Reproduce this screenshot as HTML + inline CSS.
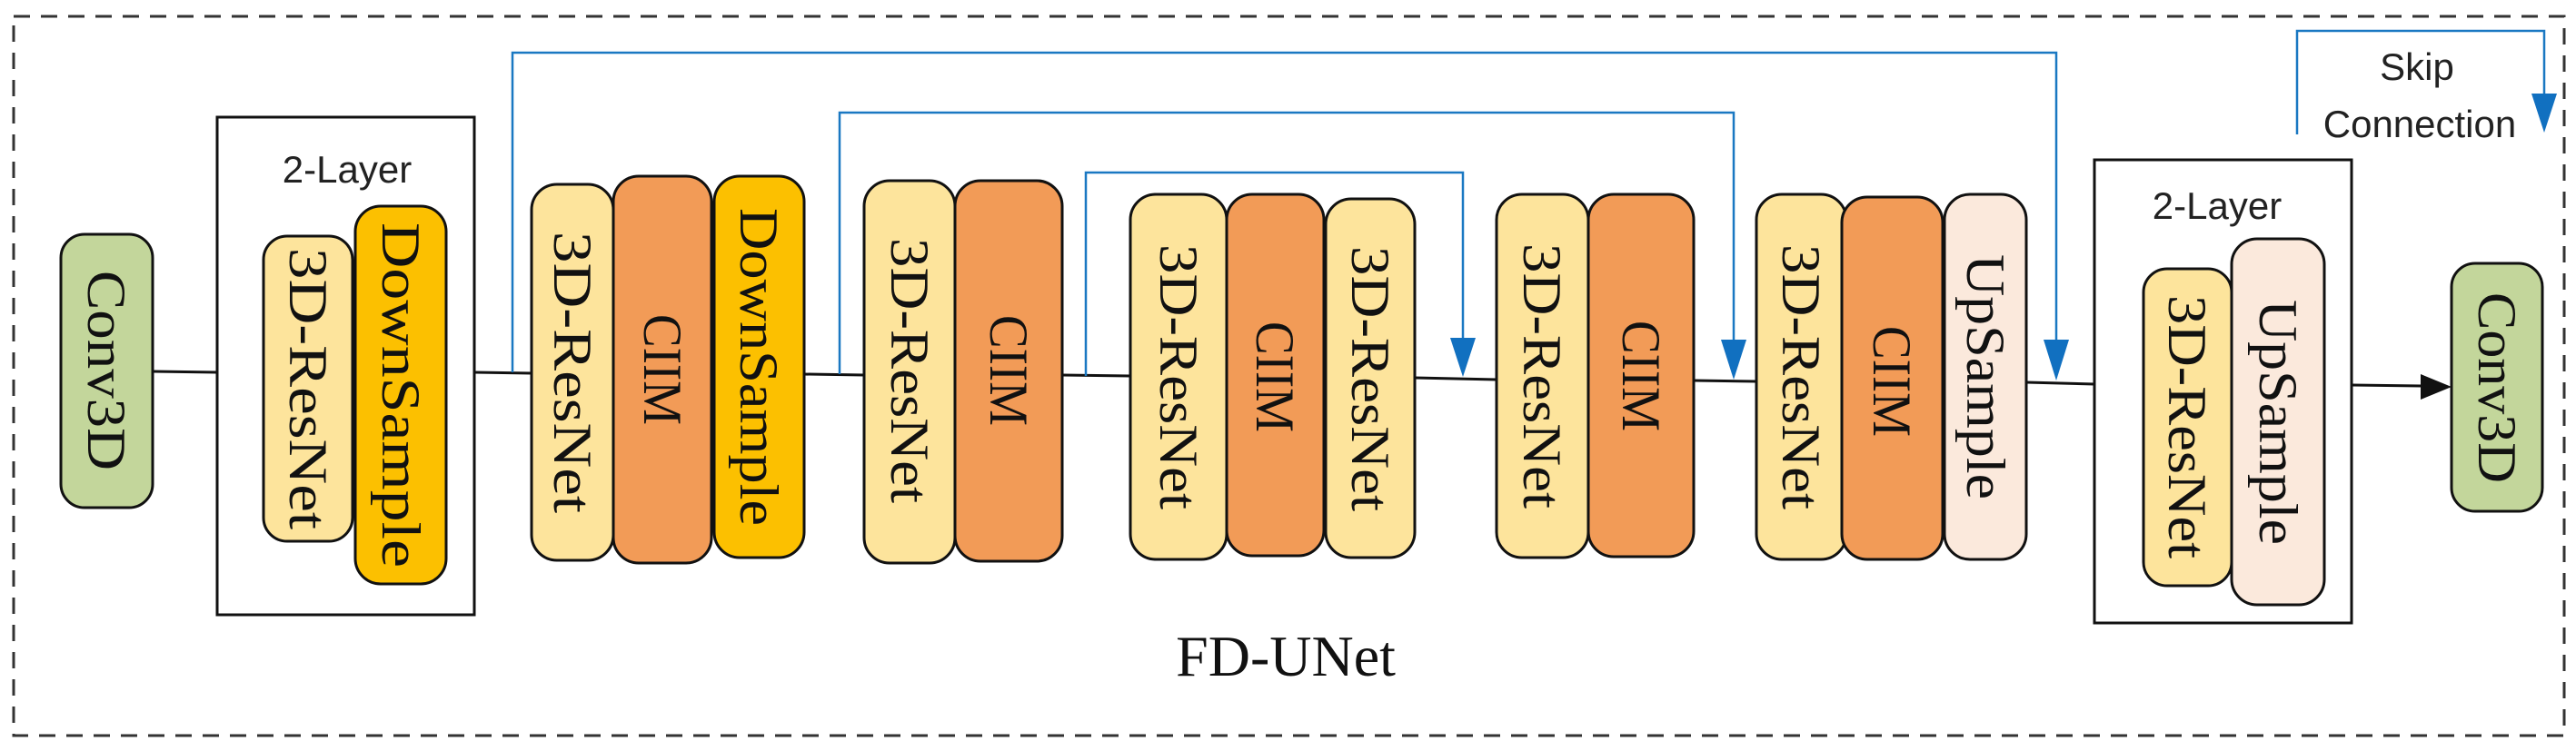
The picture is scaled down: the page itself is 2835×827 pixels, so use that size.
<!DOCTYPE html>
<html><head><meta charset="utf-8"><style>html,body{margin:0;padding:0;background:#fff}svg{display:block}</style></head>
<body>
<svg width="2835" height="827" viewBox="0 0 2835 827" xmlns="http://www.w3.org/2000/svg">
<defs>
<marker id="ab" markerWidth="10" markerHeight="10" refX="5" refY="9" orient="auto" markerUnits="userSpaceOnUse" viewBox="0 0 10 10"></marker>
</defs>
<rect x="15" y="18" width="2807" height="792" fill="none" stroke="#333" stroke-width="3" stroke-dasharray="18,12"/>
<!-- main line -->
<g stroke="#111" stroke-width="3" fill="none">
<line x1="168" y1="409" x2="239" y2="410"/>
<line x1="522" y1="410" x2="585" y2="411"/>
<line x1="885" y1="412" x2="951" y2="413"/>
<line x1="1169" y1="413" x2="1244" y2="414"/>
<line x1="1557" y1="416" x2="1647" y2="418"/>
<line x1="1864" y1="419" x2="1933" y2="420"/>
<line x1="2230" y1="421" x2="2305" y2="423"/>
<line x1="2588" y1="424" x2="2665" y2="425"/>
</g>
<polygon points="2698,426 2664,412 2664,440" fill="#111"/>
<!-- skip connections -->
<g stroke="#1a78c2" stroke-width="2.5" fill="none">
<polyline points="564,410 564,58 2263,58 2263,378"/>
<polyline points="924,412 924,124 1908,124 1908,378"/>
<polyline points="1195,414 1195,190 1610,190 1610,376"/>
<polyline points="2528,148 2528,34 2800,34 2800,108"/>
</g>
<g fill="#1170c0">
<polygon points="1596,372 1624,372 1610,415"/>
<polygon points="1894,374 1922,374 1908,418"/>
<polygon points="2249,374 2277,374 2263,419"/>
<polygon points="2786,103 2814,103 2800,146"/>
</g>
<!-- boxes -->
<rect x="239" y="129" width="283" height="548" fill="none" stroke="#111" stroke-width="3"/>
<rect x="2305" y="176" width="283" height="510" fill="none" stroke="#111" stroke-width="3"/>
<g font-family="Liberation Sans, sans-serif" font-size="42" fill="#222" text-anchor="middle">
<text x="382" y="201">2-Layer</text>
<text x="2440" y="241">2-Layer</text>
<text x="2660" y="88">Skip</text>
<text x="2663" y="151">Connection</text>
</g>
<g stroke="#111" stroke-width="3">
<rect x="67" y="258" width="101" height="301" rx="26" fill="#c3d69b"/>
<rect x="290" y="260" width="98" height="336" rx="26" fill="#fde49c"/>
<rect x="391" y="227" width="100" height="416" rx="28" fill="#fcc000"/>
<rect x="585" y="203" width="90" height="414" rx="28" fill="#fde49c"/>
<rect x="675" y="194" width="108" height="426" rx="28" fill="#f29b57"/>
<rect x="786" y="194" width="99" height="420" rx="28" fill="#fcc000"/>
<rect x="951" y="199" width="100" height="421" rx="28" fill="#fde49c"/>
<rect x="1051" y="199" width="118" height="419" rx="28" fill="#f29b57"/>
<rect x="1244" y="214" width="106" height="402" rx="28" fill="#fde49c"/>
<rect x="1350" y="214" width="107" height="398" rx="28" fill="#f29b57"/>
<rect x="1459" y="219" width="98" height="395" rx="28" fill="#fde49c"/>
<rect x="1647" y="214" width="101" height="400" rx="28" fill="#fde49c"/>
<rect x="1748" y="214" width="116" height="399" rx="28" fill="#f29b57"/>
<rect x="1933" y="214" width="99" height="402" rx="28" fill="#fde49c"/>
<rect x="2027" y="217" width="111" height="399" rx="28" fill="#f29b57"/>
<rect x="2140" y="214" width="90" height="402" rx="28" fill="#fbe9dc"/>
<rect x="2359" y="296" width="97" height="349" rx="26" fill="#fde49c"/>
<rect x="2456" y="263" width="102" height="403" rx="28" fill="#fbe9dc"/>
<rect x="2698" y="290" width="100" height="273" rx="26" fill="#c3d69b"/>
</g>
<g font-family="Liberation Serif, serif" font-size="60" fill="#111" text-anchor="middle" dominant-baseline="central" lengthAdjust="spacingAndGlyphs">
<text transform="translate(117,408) rotate(90)" textLength="220" lengthAdjust="spacingAndGlyphs">Conv3D</text>
<text transform="translate(339,428) rotate(90)" textLength="310" lengthAdjust="spacingAndGlyphs">3D-ResNet</text>
<text transform="translate(441,435) rotate(90)" textLength="380" lengthAdjust="spacingAndGlyphs">DownSample</text>
<text transform="translate(630,410) rotate(90)" textLength="310" lengthAdjust="spacingAndGlyphs">3D-ResNet</text>
<text transform="translate(729,407) rotate(90)" textLength="122" lengthAdjust="spacingAndGlyphs">CIIM</text>
<text transform="translate(835,404) rotate(90)" textLength="350" lengthAdjust="spacingAndGlyphs">DownSample</text>
<text transform="translate(1001,408) rotate(90)" textLength="292" lengthAdjust="spacingAndGlyphs">3D-ResNet</text>
<text transform="translate(1110,408) rotate(90)" textLength="122" lengthAdjust="spacingAndGlyphs">CIIM</text>
<text transform="translate(1297,415) rotate(90)" textLength="292" lengthAdjust="spacingAndGlyphs">3D-ResNet</text>
<text transform="translate(1403,415) rotate(90)" textLength="122" lengthAdjust="spacingAndGlyphs">CIIM</text>
<text transform="translate(1508,417) rotate(90)" textLength="292" lengthAdjust="spacingAndGlyphs">3D-ResNet</text>
<text transform="translate(1697,414) rotate(90)" textLength="292" lengthAdjust="spacingAndGlyphs">3D-ResNet</text>
<text transform="translate(1806,414) rotate(90)" textLength="122" lengthAdjust="spacingAndGlyphs">CIIM</text>
<text transform="translate(1982,415) rotate(90)" textLength="292" lengthAdjust="spacingAndGlyphs">3D-ResNet</text>
<text transform="translate(2082,420) rotate(90)" textLength="122" lengthAdjust="spacingAndGlyphs">CIIM</text>
<text transform="translate(2185,415) rotate(90)" textLength="270" lengthAdjust="spacingAndGlyphs">UpSample</text>
<text transform="translate(2407,470) rotate(90)" textLength="290" lengthAdjust="spacingAndGlyphs">3D-ResNet</text>
<text transform="translate(2507,465) rotate(90)" textLength="270" lengthAdjust="spacingAndGlyphs">UpSample</text>
<text transform="translate(2748,427) rotate(90)" textLength="210" lengthAdjust="spacingAndGlyphs">Conv3D</text>
</g>
<text x="1415" y="744" font-family="Liberation Serif, serif" font-size="64" fill="#111" text-anchor="middle">FD-UNet</text>
</svg>
</body></html>
